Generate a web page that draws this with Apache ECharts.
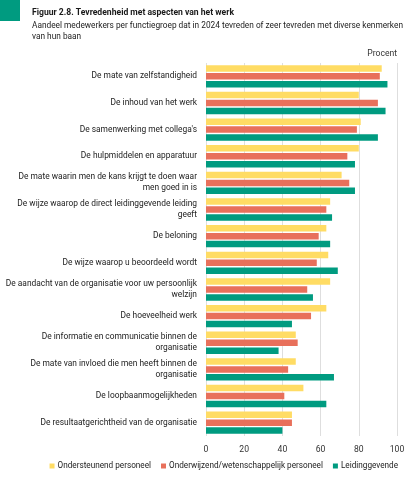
<!DOCTYPE html>
<html>
<head>
<meta charset="utf-8">
<script src="https://cdn.jsdelivr.net/npm/echarts@6/dist/echarts.min.js"></script>
<style>
  html, body { margin: 0; padding: 0; background: #fff; }
  #chart { width: 415px; height: 482px; }
</style>
</head>
<body>
<div id="chart"></div>
<script>
// categories (top to bottom)
var categories = [
  'De mate van zelfstandigheid',
  'De inhoud van het werk',
  "De samenwerking met collega's",
  'De hulpmiddelen en apparatuur',
  'De mate waarin men de kans krijgt te doen waar\nmen goed in is',
  'De wijze waarop de direct leidinggevende leiding\ngeeft',
  'De beloning',
  'De wijze waarop u beoordeeld wordt',
  'De aandacht van de organisatie voor uw persoonlijk\nwelzijn',
  'De hoeveelheid werk',
  'De informatie en communicatie binnen de\norganisatie',
  'De mate van invloed die men heeft binnen de\norganisatie',
  'De loopbaanmogelijkheden',
  'De resultaatgerichtheid van de organisatie'
];

var seriesNames = ['Ondersteunend personeel', 'Onderwijzend/wetenschappelijk personeel', 'Leidinggevende'];

var ondersteunend = [92, 80, 81, 80, 71, 65, 63, 64, 65, 63, 47, 47, 51, 45];
var onderwijzend  = [91, 90, 79, 74, 75, 63, 59, 58, 53, 55, 48, 43, 41, 45];
var leidinggevend = [95, 94, 90, 78, 78, 66, 65, 69, 56, 45, 38, 67, 63, 40];

var xTicks = [0, 20, 40, 60, 80, 100];

var colors = ['#FFDC64', '#E8705B', '#009B80'];
var fontFamily = 'Roboto, "Liberation Sans", sans-serif';

var chart = echarts.init(document.getElementById('chart'));

function barSeries(name, data, color) {
  return {
    name: name,
    type: 'bar',
    data: data,
    barWidth: 6.5,
    barGap: '22%',
    itemStyle: { color: color },
    emphasis: { disabled: true }
  };
}

var option = {
  backgroundColor: '#ffffff',
  color: colors,
  animation: false,
  textStyle: { fontFamily: fontFamily },
  title: {
    left: 27,
    top: 3,
    text: 'Figuur 2.8. Tevredenheid met aspecten van het werk',
    subtext: 'Aandeel medewerkers per functiegroep dat in 2024 tevreden of zeer tevreden met diverse kenmerken\nvan hun baan',
    itemGap: 3,
    textStyle: { fontSize: 8.6, fontWeight: 'bold', color: '#1a1a1a', fontFamily: fontFamily },
    subtextStyle: { fontSize: 8.3, color: '#222', lineHeight: 11, fontFamily: fontFamily }
  },
  graphic: [
    { type: 'rect', left: 0, top: 0, shape: { width: 20, height: 21 }, style: { fill: '#009B80' } },
    { type: 'text', right: 18, top: 49, style: { text: 'Procent', fontSize: 8.6, fill: '#333', fontFamily: fontFamily } }
  ],
  legend: {
    bottom: 7,
    right: 12,
    itemWidth: 5,
    itemHeight: 5,
    itemGap: 10,
    icon: 'rect',
    textStyle: { fontSize: 8.2, color: '#222', padding: [0, 0, 0, -2] },
    data: seriesNames
  },
  grid: {
    left: 206,
    right: 18,
    top: 63,
    bottom: 46,
    containLabel: false
  },
  xAxis: {
    type: 'value',
    min: xTicks[0],
    max: xTicks[xTicks.length - 1],
    interval: 20,
    axisLine: { show: false },
    axisTick: { show: false },
    splitLine: { lineStyle: { color: '#dedede', width: 1 } },
    axisLabel: { fontSize: 8.6, color: '#333', margin: 9 }
  },
  yAxis: {
    type: 'category',
    inverse: true,
    data: categories,
    axisLine: { show: false },
    axisTick: { show: false },
    axisLabel: { fontSize: 8.4, color: '#222', margin: 9, align: 'right', lineHeight: 11 }
  },
  series: [
    barSeries(seriesNames[0], ondersteunend, colors[0]),
    barSeries(seriesNames[1], onderwijzend, colors[1]),
    barSeries(seriesNames[2], leidinggevend, colors[2])
  ]
};

chart.setOption(option);
</script>
</body>
</html>
